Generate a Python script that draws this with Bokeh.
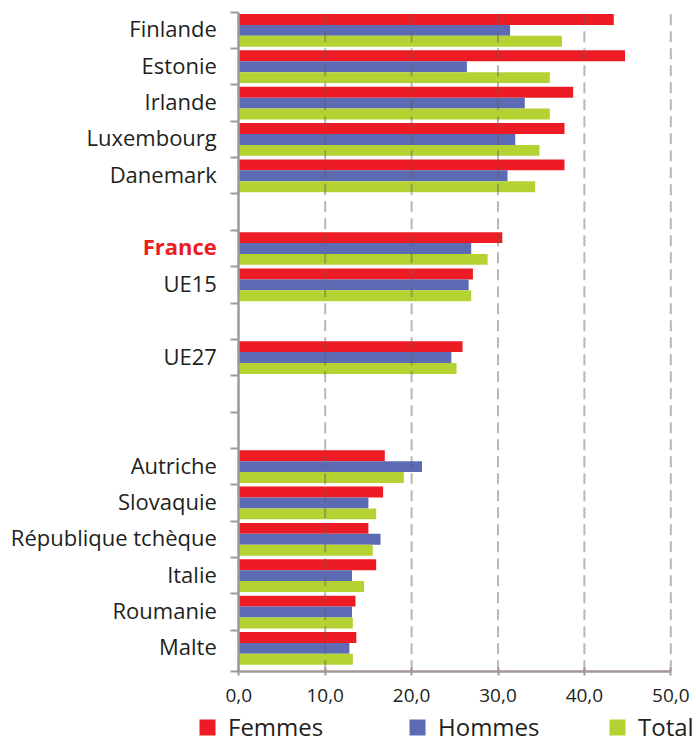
from bokeh.plotting import figure
from bokeh.models import (Range1d, FixedTicker, ColumnDataSource, Legend, LegendItem)
from bokeh.core.properties import value
from bokeh.embed import file_html
from bokeh.resources import INLINE

# ---------------- data ----------------
categories = ["Finlande", "Estonie", "Irlande", "Luxembourg", "Danemark", "",
              "France", "UE15", "", "UE27", "", "",
              "Autriche", "Slovaquie", "République tchèque", "Italie", "Roumanie", "Malte"]
femmes = [43.4, 44.7, 38.7, 37.7, 37.7, None,
          30.5, 27.1, None, 25.9, None, None,
          16.9, 16.7, 15.0, 15.9, 13.5, 13.6]
hommes = [31.4, 26.4, 33.1, 32.0, 31.1, None,
          26.9, 26.6, None, 24.6, None, None,
          21.2, 15.0, 16.4, 13.1, 13.1, 12.8]
total = [37.4, 36.0, 36.0, 34.8, 34.3, None,
         28.8, 26.9, None, 25.2, None, None,
         19.1, 15.9, 15.5, 14.5, 13.2, 13.2]
highlight = "France"
series_names = ["Femmes", "Hommes", "Total"]
series_colors = ["#ed1c24", "#5c6bb3", "#b4d333"]
x_ticks = [0, 10, 20, 30, 40, 50]
x_tick_labels = ["0,0", "10,0", "20,0", "30,0", "40,0", "50,0"]

# ---------------- layout constants ----------------
FONT = "Open Sans"
TEXT_COLOR = "#231f20"
AXIS_COLOR = "#a39898"
W, H = 696, 744
X0_PX, XMAX_PX = 238.3, 670.3      # pixel of x=0 and x=50
YTOP_PX, YONE_PX = 11.7, 629.7     # pixel of top boundary and of boundary "1"
AXIS_PX = 670.7                     # pixel of the x axis line

n = len(categories)
xmax = x_ticks[-1]
ppx = (XMAX_PX - X0_PX) / xmax
ppy = (YONE_PX - YTOP_PX) / (n - 1)
y0_px = YONE_PX + ppy
y_pad = (AXIS_PX - y0_px) / ppy

p = figure(width=W, height=H, output_backend="svg", toolbar_location=None,
           x_range=Range1d(-X0_PX / ppx, xmax + (W - XMAX_PX) / ppx),
           y_range=Range1d(-(H - y0_px) / ppy, n + YTOP_PX / ppy),
           min_border=0)
p.outline_line_color = None
p.background_fill_color = "white"
p.xgrid.visible = False
p.ygrid.visible = False

centers = [n - 0.5 - i for i in range(n)]
bar_h = 0.3
offsets = [bar_h, 0.0, -bar_h]
renderers = []
for vals, col, off in zip([femmes, hommes, total], series_colors, offsets):
    ys = [c + off for c, v in zip(centers, vals) if v is not None]
    xs = [v for v in vals if v is not None]
    src = ColumnDataSource(dict(y=ys, right=xs))
    r = p.hbar(y="y", left=0, right="right", height=bar_h, source=src,
               fill_color=col, line_color=None)
    renderers.append(r)

# dashed vertical grid lines, drawn over the bars
gx = x_ticks[1:]
p.segment(x0=gx, x1=gx, y0=[-y_pad] * len(gx), y1=[n] * len(gx),
          line_color="#6b5a5a", line_alpha=0.45, line_width=2, line_dash="11 6")

# x axis (fixed at the bottom of the bar area)
xa = p.xaxis[0]
xa.fixed_location = -y_pad
xa.bounds = (x_ticks[0], xmax)
xa.ticker = FixedTicker(ticks=x_ticks)
xa.major_label_overrides = {t: l for t, l in zip(x_ticks, x_tick_labels)}
xa.axis_line_color = AXIS_COLOR
xa.axis_line_width = 2.5
xa.major_tick_line_color = AXIS_COLOR
xa.major_tick_line_width = 2
xa.major_tick_in = 4
xa.major_tick_out = 4
xa.minor_tick_line_color = None
xa.major_label_text_font = FONT
xa.major_label_text_font_size = "19px"
xa.major_label_text_color = TEXT_COLOR
xa.major_label_standoff = 14

# y axis (fixed at x=0), ticks at category boundaries, no labels
ya = p.yaxis[0]
ya.fixed_location = 0
ya.bounds = (-y_pad, n)
ya.ticker = FixedTicker(ticks=[-y_pad] + list(range(1, n + 1)))
ya.axis_line_color = AXIS_COLOR
ya.axis_line_width = 2.5
ya.major_tick_line_color = AXIS_COLOR
ya.major_tick_line_width = 2
ya.major_tick_in = 0
ya.major_tick_out = 8
ya.minor_tick_line_color = None
ya.major_label_text_font_size = "0px"
ya.major_label_text_alpha = 0

# category labels
norm = [(c, y) for c, y in zip(categories, centers) if c and c != highlight]
hi = [(c, y) for c, y in zip(categories, centers) if c == highlight]
p.text(x=[0] * len(norm), y=[y for _, y in norm], text=[c for c, _ in norm],
       x_offset=-22, y_offset=-2, text_align="right", text_baseline="middle",
       text_font=value(FONT), text_font_size="22px", text_color=TEXT_COLOR)
p.text(x=[0] * len(hi), y=[y for _, y in hi], text=[c for c, _ in hi],
       x_offset=-22, y_offset=-2, text_align="right", text_baseline="middle",
       text_font=value(FONT), text_font_size="22px", text_font_style="bold",
       text_color="#ed1c24")

# legend: three single-item legends
legend_x = [197, 407, 607]
for name, r, lx in zip(series_names, renderers, legend_x):
    leg = Legend(items=[LegendItem(label=name, renderers=[r])], location=(lx, 1),
                 orientation="horizontal", glyph_width=20, glyph_height=20,
                 label_height=20, label_standoff=11, padding=0, margin=0, spacing=0,
                 border_line_color=None, background_fill_alpha=0,
                 label_text_font=FONT, label_text_font_size="24px",
                 label_text_color=TEXT_COLOR)
    p.add_layout(leg)

open("out.html", "w").write(file_html(p, INLINE))
